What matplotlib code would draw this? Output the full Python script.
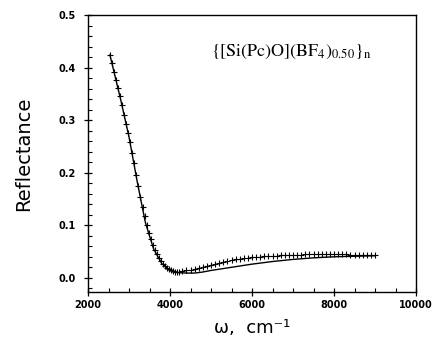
import matplotlib
matplotlib.use("Agg")
import matplotlib.pyplot as plt
from matplotlib.ticker import MultipleLocator

plt.rcParams["mathtext.fontset"] = "stix"

# measured data (crosses)
x_data = [2535, 2580, 2630, 2680, 2730, 2780, 2830, 2880, 2930, 2980,
          3030, 3080, 3130, 3180, 3230, 3280, 3330, 3380, 3430, 3480,
          3530, 3580, 3630, 3680, 3730, 3780, 3830, 3880, 3930, 3980,
          4030, 4080, 4130, 4180, 4230,
          4300, 4400, 4500, 4600, 4700, 4800, 4900, 5000, 5100, 5200,
          5300, 5400, 5500, 5600, 5700, 5800, 5900, 6000, 6100, 6200,
          6300, 6400, 6500, 6600, 6700, 6800, 6900, 7000, 7100, 7200,
          7300, 7400, 7500, 7600, 7700, 7800, 7900, 8000, 8100, 8200,
          8300, 8400, 8500, 8600, 8700, 8800, 8900, 9000]
y_data = [0.424, 0.408, 0.392, 0.377, 0.362, 0.345, 0.328, 0.310, 0.292, 0.275,
          0.258, 0.238, 0.218, 0.196, 0.174, 0.153, 0.135, 0.118, 0.100, 0.086,
          0.073, 0.062, 0.053, 0.045, 0.038, 0.032, 0.027, 0.023, 0.019, 0.016,
          0.014, 0.013, 0.012, 0.012, 0.012,
          0.013, 0.014, 0.015, 0.017, 0.019, 0.021, 0.022, 0.024, 0.026, 0.028,
          0.030, 0.032, 0.034, 0.035, 0.036, 0.037, 0.038, 0.039, 0.040, 0.040,
          0.041, 0.041, 0.042, 0.042, 0.043, 0.043, 0.043, 0.044, 0.044, 0.044,
          0.045, 0.045, 0.045, 0.045, 0.045, 0.045, 0.045, 0.045, 0.045, 0.045,
          0.045, 0.044, 0.044, 0.044, 0.044, 0.044, 0.043, 0.043]

# fit (solid line)
x_fit = [2535, 2800, 3000, 3200, 3400, 3600, 3800, 4000, 4200, 4400,
         4600, 4800, 5000, 5500, 6000, 6500, 7000, 7500, 8000, 8500, 9000]
y_fit = [0.424, 0.338, 0.268, 0.183, 0.105, 0.055, 0.027, 0.014, 0.010, 0.009,
         0.009, 0.011, 0.014, 0.020, 0.026, 0.031, 0.035, 0.038, 0.040, 0.041, 0.042]

x_ticks = [2000, 4000, 6000, 8000, 10000]
y_ticks = [0.0, 0.1, 0.2, 0.3, 0.4, 0.5]

fig = plt.figure(figsize=(4.36, 3.39), dpi=100)
ax = fig.add_axes([88/436, 1 - 292/339, (416-88)/436, (292-15)/339])

ax.plot(x_fit, y_fit, color="black", lw=1.0)
ax.plot(x_data, y_data, ls="none", marker="+", color="black", ms=5, mew=0.8)

ax.set_xlim(2000, 10000)
ax.set_ylim(-0.027, 0.5)
ax.set_xticks(x_ticks)
ax.set_yticks(y_ticks)
ax.set_xticklabels([str(v) for v in x_ticks], fontweight="bold", fontsize=7)
ax.set_yticklabels(["%.1f" % v for v in y_ticks], fontweight="bold", fontsize=7)
ax.xaxis.set_minor_locator(MultipleLocator(500))
ax.yaxis.set_minor_locator(MultipleLocator(0.02))
ax.tick_params(which="major", direction="inout", length=6, width=0.9)
ax.tick_params(axis="y", which="major", pad=6)
ax.tick_params(axis="x", which="major", pad=3)
ax.tick_params(which="minor", direction="in", length=3, width=0.8)
for s in ax.spines.values():
    s.set_linewidth(1.0)

ax.set_ylabel("Reflectance", fontsize=14, labelpad=18)
ax.set_xlabel("ω,  cm⁻¹", fontsize=13, labelpad=6)

ax.text(5000, 0.43, r"$\{[\mathrm{Si(Pc)O}](\mathrm{BF}_4)_{0.50}\}_\mathrm{n}$",
        fontsize=13, va="center", ha="left")

fig.savefig("out.png", dpi=100)
